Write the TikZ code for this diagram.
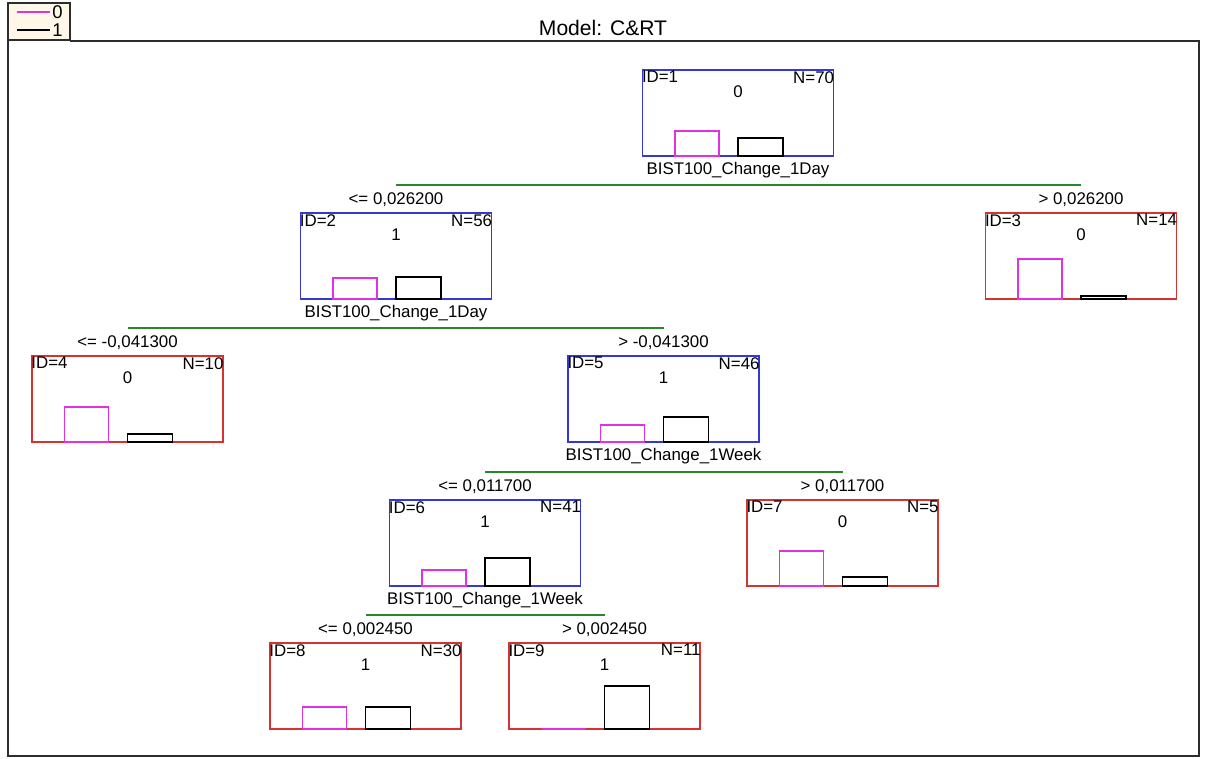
\documentclass[tikz,border=0pt]{standalone}
\usepackage{fontspec}
\setmainfont{Liberation Sans}
\usetikzlibrary{positioning}
\definecolor{boxblue}{RGB}{55,55,210}
\definecolor{boxred}{RGB}{215,50,50}
\definecolor{barpink}{RGB}{225,50,225}
\definecolor{splitgreen}{RGB}{40,135,40}
\definecolor{legendfill}{RGB}{255,248,232}
\definecolor{framegray}{RGB}{45,45,45}

\begin{document}
\begin{tikzpicture}[x=0.02cm, y=-0.02cm, font=\fontsize{9.6}{11}\selectfont,
  treebox/.style={draw, line width=1pt, minimum width=3.82cm, minimum height=1.72cm, inner sep=0pt},
  txt/.style={inner sep=1pt},
  legtxt/.style={inner sep=0pt, font=\fontsize{10.5}{12}\selectfont},
  splitline/.style={splitgreen, line width=1.1pt},
  bar/.style={line width=1pt}]
\useasboundingbox (0,0) rectangle (1209,758);

% Frame and legend
\draw[framegray, line width=1pt] (70,41) -- (1199,41) -- (1199,756) -- (8,756) -- (8,40);
\draw[framegray, line width=1pt, fill=legendfill] (8,3) rectangle (70,40);
\draw[bar, barpink] (17,12) -- (50,12);
\draw[bar, black] (17,30) -- (50,30);
\node[legtxt, anchor=west] (leg0) at (52,12) {0};
\node[legtxt, anchor=west] (leg1) at (52,30) {1};
\node[txt, font=\fontsize{12}{14}\selectfont] (title) at (603,28) {Model: C\&RT};

% Tree nodes: id/cx/cy/N/class/colour/pink bar/black bar
\foreach \i/\cx/\cy/\n/\cls/\col/\mh/\bh in {
  1/738/113/70/0/boxblue/25/18,
  2/396/256/56/1/boxblue/21/22,
  3/1081/256/14/0/boxred/40/3,
  4/127.5/399/10/0/boxred/35/8,
  5/663.5/399/46/1/boxblue/17/25,
  6/485/543/41/1/boxblue/16/28,
  7/842.5/543/5/0/boxred/35/9,
  8/365.5/686/30/1/boxred/22/22,
  9/604.5/686/11/1/boxred/0/43}{
  \node[treebox, draw=\col] (n\i) at (\cx,\cy) {};
  \node[txt, anchor=north west, inner sep=0pt] (id\i) at ([yshift=-1pt]n\i.north west) {ID=\i};
  \node[txt, anchor=north east, inner sep=0pt] (nn\i) at ([yshift=-1pt]n\i.north east) {N=\n};
  \node[txt] (cl\i) at (\cx,\cy-21) {\cls};
  \draw[bar, black] (\cx,\cy+43) rectangle (\cx+45,\cy+43-\bh);
  \draw[bar, barpink] (\cx-63,\cy+43) rectangle (\cx-19,\cy+43-\mh);
}

% Split variables
\node[txt, below=2pt of n1] (v1) {BIST100\_Change\_1Day};
\node[txt, below=2pt of n2] (v2) {BIST100\_Change\_1Day};
\node[txt, below=2pt of n5] (v5) {BIST100\_Change\_1Week};
\node[txt, below=2pt of n6] (v6) {BIST100\_Change\_1Week};

% Split conditions
\node[txt, above=2pt of n2] (c2) {<= 0,026200};
\node[txt, above=2pt of n3] (c3) {> 0,026200};
\node[txt, above=2pt of n4] (c4) {<= -0,041300};
\node[txt, above=2pt of n5] (c5) {> -0,041300};
\node[txt, above=2pt of n6] (c6) {<= 0,011700};
\node[txt, above=2pt of n7] (c7) {> 0,011700};
\node[txt, above=2pt of n8] (c8) {<= 0,002450};
\node[txt, above=2pt of n9] (c9) {> 0,002450};

% Split lines
\draw[splitline] ([yshift=0.29cm]c2.center) -- ([yshift=0.29cm]c3.center);
\draw[splitline] ([yshift=0.29cm]c4.center) -- ([yshift=0.29cm]c5.center);
\draw[splitline] ([yshift=0.29cm]c6.center) -- ([yshift=0.29cm]c7.center);
\draw[splitline] ([yshift=0.29cm]c8.center) -- ([yshift=0.29cm]c9.center);
\end{tikzpicture}
\end{document}
